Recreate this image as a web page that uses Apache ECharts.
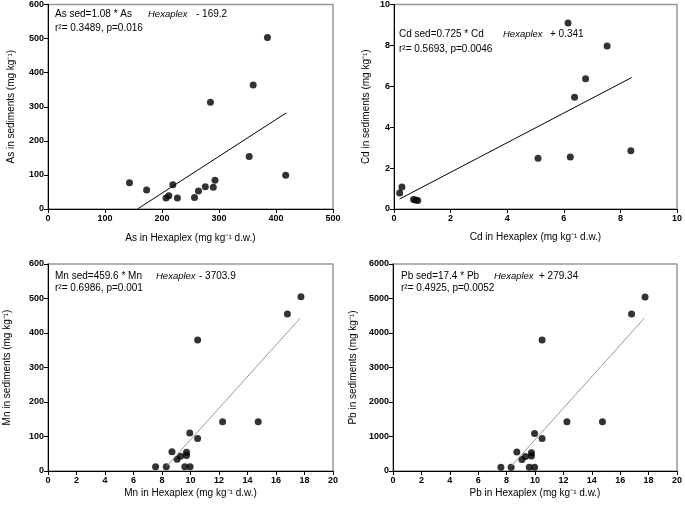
<!DOCTYPE html>
<html>
  <head>
    <meta charset="utf-8" />
    <script src="https://cdn.jsdelivr.net/npm/echarts@6.0.0/dist/echarts.min.js"></script>
    <style>body{margin:0;background:#fff}</style>
  </head>
  <body>
    <div id="main" style="width: 685px;height:506px;"></div>
    <script type="text/javascript">
      var myChart = echarts.init(document.getElementById('main'));

      // As panel: [Hexaplex, sediment]
      const asPoints = [[143, 77], [173, 56], [207, 32], [212, 39], [219, 71], [227, 32], [257, 34],
        [264, 53], [276, 65], [290, 64], [293, 84], [285, 313], [353, 154], [360, 364], [385, 503], [417, 99]];
      const asLine = [[157, 0], [418, 282]];

      // Cd panel
      const cdPoints = [[0.2, 0.78], [0.28, 1.07], [0.69, 0.47], [0.76, 0.44], [0.84, 0.42], [5.09, 2.48],
        [6.23, 2.54], [6.15, 9.09], [6.38, 5.46], [6.77, 6.37], [7.53, 7.97], [8.37, 2.85]];
      const cdLine = [[0.2, 0.49], [8.4, 6.43]];

      // Mn panel
      const mnPoints = [[7.55, 12], [8.3, 12], [8.7, 56], [9.06, 34], [9.3, 43], [9.72, 54], [9.72, 45],
        [9.6, 12], [9.97, 12], [9.95, 110], [10.5, 94], [10.5, 380], [12.25, 143], [14.75, 143], [16.8, 455], [17.75, 505]];
      const mnLine = [[8.35, 15], [17.7, 443]];

      // Pb panel
      const pbPoints = [[7.6, 110], [8.32, 110], [8.72, 550], [9.08, 330], [9.33, 420], [9.75, 530], [9.75, 435],
        [9.6, 110], [9.97, 110], [9.97, 1085], [10.5, 940], [10.5, 3800], [12.25, 1430], [14.75, 1430], [16.8, 4550], [17.75, 5040]];
      const pbLine = [[8.35, 150], [17.7, 4430]];

      const fontFam = 'Liberation Sans, Arial, sans-serif';

      function xAx(idx, max, interval, name, gap) {
        return {
          gridIndex: idx, type: 'value', min: 0, max: max, interval: interval,
          name: name, nameLocation: 'middle', nameGap: gap,
          nameTextStyle: { fontFamily: fontFam, fontSize: 10, color: '#000' },
          axisLine: { lineStyle: { color: '#000', width: 1 } },
          axisTick: { show: true, length: 4, lineStyle: { color: '#000' } },
          axisLabel: { fontFamily: fontFam, fontSize: 9, fontWeight: 'bold', color: '#000', margin: 5,
            formatter: v => String(v) },
          splitLine: { show: false }
        };
      }
      function yAx(idx, max, interval, name, gap) {
        return {
          gridIndex: idx, type: 'value', min: 0, max: max, interval: interval,
          name: name, nameLocation: 'middle', nameGap: gap, nameRotate: 90,
          nameTextStyle: { fontFamily: fontFam, fontSize: 10, color: '#000' },
          axisLine: { lineStyle: { color: '#000', width: 1 } },
          axisTick: { show: true, length: 4, lineStyle: { color: '#000' } },
          axisLabel: { fontFamily: fontFam, fontSize: 9, fontWeight: 'bold', color: '#000', margin: 4,
            formatter: v => String(v) },
          splitLine: { show: false }
        };
      }
      function scat(idx, data) {
        return { type: 'scatter', xAxisIndex: idx, yAxisIndex: idx, data: data,
          symbolSize: 7, itemStyle: { color: '#000' }, silent: true };
      }
      function fit(idx, data, color) {
        return { type: 'line', xAxisIndex: idx, yAxisIndex: idx, data: data,
          showSymbol: false, lineStyle: { color: color, width: 1 }, silent: true };
      }
      function txt(x, y, s, italic) {
        return { type: 'text', left: x, top: y - 6,
          style: { text: s, fill: '#000', font: (italic ? 'italic 9.5px ' : '10px ') + fontFam } };
      }

      const gridStyle = { show: true, borderColor: '#999', borderWidth: 1.5, backgroundColor: '#fff' };

      option = {
        animation: false,
        backgroundColor: '#fff',
        grid: [
          Object.assign({ left: 48, top: 3, width: 285, height: 206 }, gridStyle),
          Object.assign({ left: 394, top: 3, width: 286, height: 206 }, gridStyle),
          Object.assign({ left: 48, top: 264, width: 285, height: 207 }, gridStyle),
          Object.assign({ left: 393, top: 264, width: 287, height: 207 }, gridStyle)
        ],
        xAxis: [
          xAx(0, 500, 100, 'As in Hexaplex (mg kg⁻¹ d.w.)', 24),
          xAx(1, 10, 2, 'Cd in Hexaplex (mg kg⁻¹ d.w.)', 23),
          xAx(2, 20, 2, 'Mn in Hexaplex (mg kg⁻¹ d.w.)', 17),
          xAx(3, 20, 2, 'Pb in Hexaplex (mg kg⁻¹ d.w.)', 17)
        ],
        yAxis: [
          yAx(0, 600, 100, 'As in sediments (mg kg⁻¹)', 32),
          yAx(1, 10, 2, 'Cd in sediments (mg kg⁻¹)', 23),
          yAx(2, 600, 100, 'Mn in sediments (mg kg⁻¹)', 36),
          yAx(3, 6000, 1000, 'Pb in sediments (mg kg⁻¹)', 35)
        ],
        graphic: [
          txt(55, 15, 'As sed=1.08 * As'), txt(148, 15, 'Hexaplex', true), txt(196, 15, '- 169.2'),
          txt(55, 29, 'r²= 0.3489, p=0.016'),
          txt(399, 35, 'Cd sed=0.725 * Cd'), txt(503, 35, 'Hexaplex', true), txt(550, 35, '+ 0.341'),
          txt(399, 50, 'r²= 0.5693, p=0.0046'),
          txt(55, 277, 'Mn sed=459.6 * Mn'), txt(156, 277, 'Hexaplex', true), txt(199, 277, '- 3703.9'),
          txt(55, 289, 'r²= 0.6986, p=0.001'),
          txt(401, 277, 'Pb sed=17.4 * Pb'), txt(494, 277, 'Hexaplex', true), txt(539, 277, '+ 279.34'),
          txt(401, 289, 'r²= 0.4925, p=0.0052')
        ],
        series: [
          fit(0, asLine, '#000'), scat(0, asPoints),
          fit(1, cdLine, '#000'), scat(1, cdPoints),
          fit(2, mnLine, '#999'), scat(2, mnPoints),
          fit(3, pbLine, '#999'), scat(3, pbPoints)
        ]
      };

      myChart.setOption(option);
    </script>
  </body>
</html>
